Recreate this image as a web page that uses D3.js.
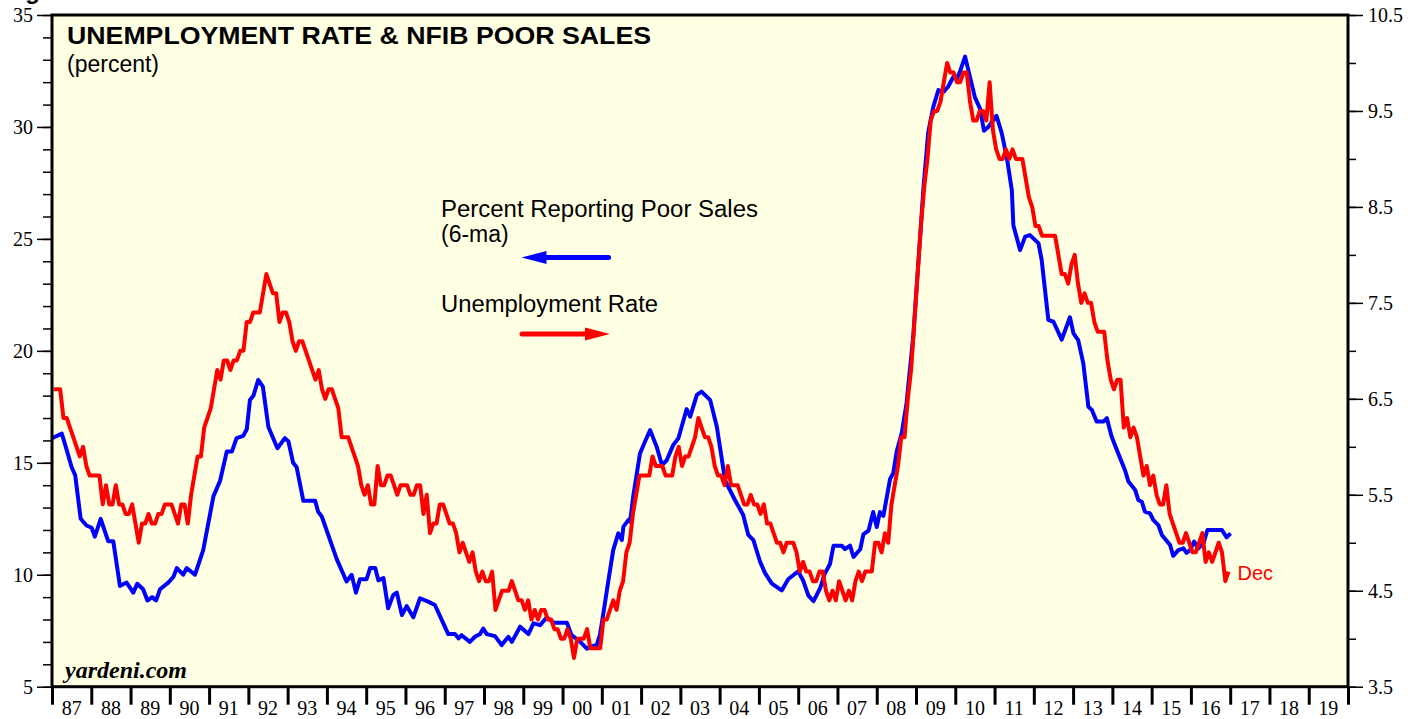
<!DOCTYPE html>
<html>
<head>
<meta charset="utf-8">
<script src="https://cdn.jsdelivr.net/npm/d3@7/dist/d3.min.js"></script>
<style>
  html, body { margin: 0; padding: 0; background: #ffffff; }
  svg { display: block; }
  .sans { font-family: "Liberation Sans", Arial, Helvetica, sans-serif; }
  .serif { font-family: "Liberation Serif", "Times New Roman", serif; }
</style>
</head>
<body>
<svg id="chart" width="1425" height="719"></svg>
<script>
// Unemployment rate, monthly, Jan 1987 - Dec 2016 (right axis)
var unemploymentRate = [
  6.6, 6.6, 6.6, 6.3, 6.3, 6.2, 6.1, 6.0, 5.9, 6.0, 5.8, 5.7,
  5.7, 5.7, 5.7, 5.4, 5.6, 5.4, 5.4, 5.6, 5.4, 5.4, 5.3, 5.3,
  5.4, 5.2, 5.0, 5.2, 5.2, 5.3, 5.2, 5.2, 5.3, 5.3, 5.4, 5.4,
  5.4, 5.3, 5.2, 5.4, 5.4, 5.2, 5.5, 5.7, 5.9, 5.9, 6.2, 6.3,
  6.4, 6.6, 6.8, 6.7, 6.9, 6.9, 6.8, 6.9, 6.9, 7.0, 7.0, 7.3,
  7.3, 7.4, 7.4, 7.4, 7.6, 7.8, 7.7, 7.6, 7.6, 7.3, 7.4, 7.4,
  7.3, 7.1, 7.0, 7.1, 7.1, 7.0, 6.9, 6.8, 6.7, 6.8, 6.6, 6.5,
  6.6, 6.6, 6.5, 6.4, 6.1, 6.1, 6.1, 6.0, 5.9, 5.8, 5.6, 5.5,
  5.6, 5.4, 5.4, 5.8, 5.6, 5.6, 5.7, 5.7, 5.6, 5.5, 5.6, 5.6,
  5.6, 5.5, 5.5, 5.6, 5.6, 5.3, 5.5, 5.1, 5.2, 5.2, 5.4, 5.4,
  5.3, 5.2, 5.2, 5.1, 4.9, 5.0, 4.9, 4.8, 4.9, 4.7, 4.6, 4.7,
  4.6, 4.6, 4.7, 4.3, 4.4, 4.5, 4.5, 4.5, 4.6, 4.5, 4.4, 4.4,
  4.3, 4.4, 4.2, 4.3, 4.2, 4.3, 4.3, 4.2, 4.2, 4.1, 4.1, 4.0,
  4.0, 4.1, 4.0, 3.8, 4.0, 4.0, 4.0, 4.1, 3.9, 3.9, 3.9, 3.9,
  4.2, 4.2, 4.3, 4.4, 4.3, 4.5, 4.6, 4.9, 5.0, 5.3, 5.5, 5.7,
  5.7, 5.7, 5.7, 5.9, 5.8, 5.8, 5.8, 5.7, 5.7, 5.7, 5.9, 6.0,
  5.8, 5.9, 5.9, 6.0, 6.1, 6.3, 6.2, 6.1, 6.1, 6.0, 5.8, 5.7,
  5.7, 5.6, 5.8, 5.6, 5.6, 5.6, 5.5, 5.4, 5.4, 5.5, 5.4, 5.4,
  5.3, 5.4, 5.2, 5.2, 5.1, 5.0, 5.0, 4.9, 5.0, 5.0, 5.0, 4.9,
  4.7, 4.8, 4.7, 4.7, 4.6, 4.6, 4.7, 4.7, 4.5, 4.4, 4.5, 4.4,
  4.6, 4.5, 4.4, 4.5, 4.4, 4.6, 4.7, 4.6, 4.7, 4.7, 4.7, 5.0,
  5.0, 4.9, 5.1, 5.0, 5.4, 5.6, 5.8, 6.1, 6.1, 6.5, 6.8, 7.3,
  7.8, 8.3, 8.7, 9.0, 9.4, 9.5, 9.5, 9.6, 9.8, 10.0, 9.9, 9.9,
  9.8, 9.8, 9.9, 9.9, 9.6, 9.4, 9.4, 9.5, 9.5, 9.4, 9.8, 9.3,
  9.1, 9.0, 9.0, 9.1, 9.0, 9.1, 9.0, 9.0, 9.0, 8.8, 8.6, 8.5,
  8.3, 8.3, 8.2, 8.2, 8.2, 8.2, 8.2, 8.0, 7.8, 7.8, 7.7, 7.9,
  8.0, 7.7, 7.5, 7.6, 7.5, 7.5, 7.3, 7.2, 7.2, 7.2, 6.9, 6.7,
  6.6, 6.7, 6.7, 6.2, 6.3, 6.1, 6.2, 6.1, 5.9, 5.7, 5.8, 5.6,
  5.7, 5.5, 5.4, 5.4, 5.6, 5.3, 5.2, 5.1, 5.0, 5.0, 5.1, 5.0,
  4.9, 4.9, 5.0, 5.1, 4.8, 4.9, 4.8, 4.9, 5.0, 4.9, 4.6, 4.7
];
var unemploymentStart = 1987;

// NFIB percent reporting poor sales (6-ma) (left axis)
var poorSalesDates = [
  1987.00, 1987.25, 1987.37, 1987.50, 1987.59, 1987.73, 1987.88, 1988.01, 1988.09, 1988.24,
  1988.43, 1988.56, 1988.73, 1988.90, 1989.07, 1989.17, 1989.32, 1989.43, 1989.55, 1989.65,
  1989.75, 1989.96, 1990.09, 1990.18, 1990.34, 1990.43, 1990.64, 1990.85, 1991.11, 1991.28,
  1991.45, 1991.58, 1991.70, 1991.87, 1991.96, 1992.04, 1992.13, 1992.25, 1992.37, 1992.51,
  1992.74, 1992.93, 1993.02, 1993.14, 1993.23, 1993.40, 1993.70, 1993.78, 1993.87, 1994.25,
  1994.50, 1994.63, 1994.74, 1994.84, 1995.01, 1995.10, 1995.23, 1995.31, 1995.44, 1995.56,
  1995.69, 1995.78, 1995.91, 1996.03, 1996.20, 1996.37, 1996.58, 1996.75, 1997.09, 1997.26,
  1997.35, 1997.43, 1997.64, 1997.77, 1997.90, 1997.98, 1998.07, 1998.28, 1998.45, 1998.62,
  1998.71, 1998.92, 1999.13, 1999.26, 1999.43, 1999.60, 1999.77, 2000.11, 2000.23, 2000.45,
  2000.62, 2000.74, 2000.87, 2000.95, 2001.04, 2001.17, 2001.29, 2001.42, 2001.51, 2001.55,
  2001.68, 2001.72, 2001.80, 2001.97, 2002.10, 2002.23, 2002.40, 2002.53, 2002.65, 2002.82,
  2002.95, 2003.16, 2003.25, 2003.42, 2003.54, 2003.76, 2003.93, 2004.14, 2004.39, 2004.60,
  2004.73, 2004.86, 2005.03, 2005.16, 2005.33, 2005.58, 2005.75, 2006.00, 2006.13, 2006.26,
  2006.39, 2006.56, 2006.68, 2006.81, 2006.90, 2007.11, 2007.19, 2007.32, 2007.41, 2007.58,
  2007.66, 2007.79, 2007.91, 2008.00, 2008.08, 2008.17, 2008.34, 2008.42, 2008.51, 2008.64,
  2008.76, 2008.93, 2009.06, 2009.19, 2009.31, 2009.44, 2009.57, 2009.70, 2009.82, 2009.95,
  2010.04, 2010.12, 2010.25, 2010.33, 2010.50, 2010.63, 2010.73, 2010.84, 2011.05, 2011.18,
  2011.31, 2011.44, 2011.48, 2011.65, 2011.78, 2011.90, 2012.12, 2012.20, 2012.37, 2012.50,
  2012.71, 2012.92, 2013.01, 2013.13, 2013.26, 2013.39, 2013.48, 2013.60, 2013.77, 2013.86,
  2013.98, 2014.15, 2014.32, 2014.41, 2014.58, 2014.66, 2014.75, 2014.83, 2014.96, 2015.04,
  2015.17, 2015.26, 2015.47, 2015.55, 2015.68, 2015.81, 2015.89, 2015.98, 2016.08, 2016.19,
  2016.32, 2016.42, 2016.79, 2016.91, 2017.01
];
var poorSalesValues = [
  16.1, 16.3, 15.6, 14.8, 14.45, 12.5, 12.2, 12.1, 11.7, 12.5,
  11.5, 11.5, 9.5, 9.65, 9.2, 9.6, 9.35, 8.85, 9.0, 8.85,
  9.35, 9.65, 9.9, 10.3, 10.0, 10.3, 10.0, 11.1, 13.5, 14.2,
  15.5, 15.5, 16.1, 16.2, 16.5, 17.8, 18.0, 18.7, 18.4, 16.6,
  15.65, 16.1, 15.95, 15.0, 14.8, 13.3, 13.3, 12.8, 12.6, 10.7,
  9.7, 10.0, 9.2, 9.8, 9.8, 10.3, 10.3, 9.75, 9.85, 8.5,
  9.1, 9.2, 8.2, 8.6, 8.1, 8.95, 8.8, 8.65, 7.35, 7.35,
  7.16, 7.3, 7.0, 7.23, 7.35, 7.6, 7.35, 7.26, 6.86, 7.23,
  7.0, 7.68, 7.35, 7.83, 7.75, 8.1, 7.86, 7.86, 7.3, 7.0,
  6.7, 6.8, 6.86, 7.3, 8.28, 9.77, 11.1, 11.85, 11.55, 12.15,
  12.45, 12.37, 13.5, 15.4, 15.95, 16.46, 15.7, 14.9, 15.1, 15.8,
  16.1, 17.4, 17.06, 18.03, 18.18, 17.8, 16.6, 14.2, 13.34, 12.67,
  11.78, 11.55, 10.58, 10.06, 9.6, 9.3, 9.81, 10.15, 9.73, 9.07,
  8.82, 9.4, 10.06, 10.48, 11.3, 11.3, 11.14, 11.3, 10.8, 11.14,
  11.8, 11.97, 12.8, 12.13, 12.8, 12.63, 14.28, 14.53, 15.52, 16.35,
  17.67, 20.65, 23.96, 27.27, 29.75, 30.9, 31.65, 31.56, 31.81, 32.23,
  32.15, 32.48, 33.14, 32.56, 31.32, 30.82, 29.83, 30.0, 30.5, 29.75,
  28.67, 27.18, 25.6, 24.5, 25.1, 25.17, 24.8, 24.06, 21.38, 21.3,
  20.5, 21.5, 20.78, 20.48, 19.44, 17.5, 17.36, 16.84, 16.84, 16.99,
  16.17, 15.42, 14.68, 14.16, 13.79, 13.34, 13.26, 12.82, 12.74, 12.45,
  12.22, 11.78, 11.33, 10.84, 11.1, 11.18, 10.98, 11.1, 11.48, 11.18,
  11.4, 12.0, 12.0, 11.67, 11.85
];

// axis ticks
var leftTickLabels = [5, 10, 15, 20, 25, 30, 35];
var rightTickLabels = [3.5, 4.5, 5.5, 6.5, 7.5, 8.5, 9.5, 10.5];
var yearLabels = ["87", "88", "89", "90", "91", "92", "93", "94", "95", "96", "97",
  "98", "99", "00", "01", "02", "03", "04", "05", "06", "07", "08", "09",
  "10", "11", "12", "13", "14", "15", "16", "17", "18", "19"];
var firstYear = 1987, lastYear = 2020;

var margin = { top: 15, right: 77, bottom: 32.3, left: 52 };
var W = 1425, H = 719;
var plotW = W - margin.left - margin.right,
    plotH = H - margin.top - margin.bottom;

var svg = d3.select('#chart');

var x = d3.scaleLinear().domain([firstYear, lastYear]).range([0, plotW]);
var yL = d3.scaleLinear().domain([5, 35]).range([plotH, 0]);
var yR = d3.scaleLinear().domain([3.5, 10.5]).range([plotH, 0]);

// header of the page above, mostly out of frame
svg.append('text')
  .attr('class', 'sans')
  .attr('x', 4).attr('y', -1)
  .style('font-size', '24px').style('font-weight', 'bold')
  .text('Figure');

var g = svg.append('g')
  .attr('transform', 'translate(' + margin.left + ',' + margin.top + ')');

g.append('rect')
  .attr('width', plotW).attr('height', plotH)
  .attr('fill', '#ffffe3');

g.append('clipPath').attr('id', 'clip')
  .append('rect').attr('width', plotW).attr('height', plotH);

// left axis: minor every 1, labels every 5
g.append('g')
  .call(d3.axisLeft(yL).tickValues(d3.range(5, 36, 1)).tickSize(9).tickFormat(''))
  .call(function(a) { a.select('.domain').remove(); a.selectAll('line').attr('stroke-width', 1.5); });
g.append('g')
  .call(d3.axisLeft(yL).tickValues(leftTickLabels).tickSize(15).tickPadding(4).tickFormat(d3.format('d')))
  .call(function(a) {
    a.select('.domain').remove();
    a.selectAll('line').attr('stroke-width', 1.5);
    a.selectAll('text').attr('class', 'serif').style('font-size', '20px').attr('fill', '#000');
  });

// right axis: minor every 0.5, labels every 1
g.append('g').attr('transform', 'translate(' + plotW + ',0)')
  .call(d3.axisRight(yR).tickValues(d3.range(3.5, 10.51, 0.5)).tickSize(8).tickFormat(''))
  .call(function(a) { a.select('.domain').remove(); a.selectAll('line').attr('stroke-width', 1.5); });
g.append('g').attr('transform', 'translate(' + plotW + ',0)')
  .call(d3.axisRight(yR).tickValues(rightTickLabels).tickSize(15).tickPadding(5).tickFormat(d3.format('.1f')))
  .call(function(a) {
    a.select('.domain').remove();
    a.selectAll('line').attr('stroke-width', 1.5);
    a.selectAll('text').attr('class', 'serif').style('font-size', '20px').attr('fill', '#000');
  });

// bottom axis: ticks at year boundaries, labels centred in each year
g.append('g').attr('transform', 'translate(0,' + plotH + ')')
  .call(d3.axisBottom(x).tickValues(d3.range(firstYear, lastYear + 1)).tickSize(18).tickFormat(''))
  .call(function(a) { a.select('.domain').remove(); a.selectAll('line').attr('stroke-width', 3); });
g.append('g').selectAll('text')
  .data(yearLabels)
  .enter().append('text')
  .attr('class', 'serif')
  .attr('x', function(d, i) { return x(firstYear + i + 0.5); })
  .attr('y', plotH + 28)
  .attr('text-anchor', 'middle')
  .style('font-size', '20px')
  .text(function(d) { return d; });

// series
var lines = g.append('g').attr('clip-path', 'url(#clip)');

lines.append('path')
  .datum(poorSalesValues)
  .attr('fill', 'none')
  .attr('stroke', '#0000ff')
  .attr('stroke-width', 4)
  .attr('stroke-linejoin', 'round')
  .attr('d', d3.line()
    .x(function(d, i) { return x(poorSalesDates[i]); })
    .y(function(d) { return yL(d); }));

lines.append('path')
  .datum(unemploymentRate)
  .attr('fill', 'none')
  .attr('stroke', '#ff0000')
  .attr('stroke-width', 4)
  .attr('stroke-linejoin', 'round')
  .attr('d', d3.line()
    .x(function(d, i) { return x(unemploymentStart + (i + 0.5) / 12); })
    .y(function(d) { return yR(d); }));

// frame
g.append('rect')
  .attr('width', plotW).attr('height', plotH)
  .attr('fill', 'none').attr('stroke', '#000').attr('stroke-width', 3);

// titles
g.append('text')
  .attr('class', 'sans')
  .attr('x', 15).attr('y', 28.5)
  .attr('textLength', 584).attr('lengthAdjust', 'spacingAndGlyphs')
  .style('font-size', '24.5px').style('font-weight', 'bold')
  .text('UNEMPLOYMENT RATE & NFIB POOR SALES');
g.append('text')
  .attr('class', 'sans')
  .attr('x', 15).attr('y', 57)
  .style('font-size', '23px')
  .text('(percent)');

g.append('text')
  .attr('class', 'serif')
  .attr('x', 13).attr('y', 663)
  .style('font-size', '24px').style('font-weight', 'bold').style('font-style', 'italic')
  .text('yardeni.com');

// legend
var legend = g.append('g').attr('class', 'sans').style('font-size', '23px');
legend.append('text').attr('x', 389).attr('y', 202)
  .attr('textLength', 317).attr('lengthAdjust', 'spacingAndGlyphs')
  .text('Percent Reporting Poor Sales');
legend.append('text').attr('x', 389).attr('y', 227).text('(6-ma)');
legend.append('text').attr('x', 389).attr('y', 297)
  .attr('textLength', 217).attr('lengthAdjust', 'spacingAndGlyphs')
  .text('Unemployment Rate');

function arrow(x0, x1, yy, color, toLeft) {
  var tip = toLeft ? x0 : x1, base = toLeft ? x0 + 25 : x1 - 25;
  legend.append('line')
    .attr('x1', toLeft ? base : x0).attr('x2', toLeft ? x1 : base)
    .attr('y1', yy).attr('y2', yy)
    .attr('stroke', color).attr('stroke-width', 5).attr('stroke-linecap', 'round');
  legend.append('path')
    .attr('d', 'M' + tip + ',' + yy + 'L' + base + ',' + (yy - 6.5) + 'L' + base + ',' + (yy + 6.5) + 'Z')
    .attr('fill', color);
}
arrow(469.5, 556.5, 242.5, '#0000ff', true);
arrow(470, 558, 319, '#ff0000', false);

// end label
g.append('text')
  .attr('class', 'sans')
  .attr('x', x(unemploymentStart + (unemploymentRate.length - 0.5) / 12) + 9)
  .attr('y', yR(unemploymentRate[unemploymentRate.length - 1]) + 8)
  .attr('fill', '#ff0000')
  .style('font-size', '20px')
  .text('Dec');
</script>
</body>
</html>
